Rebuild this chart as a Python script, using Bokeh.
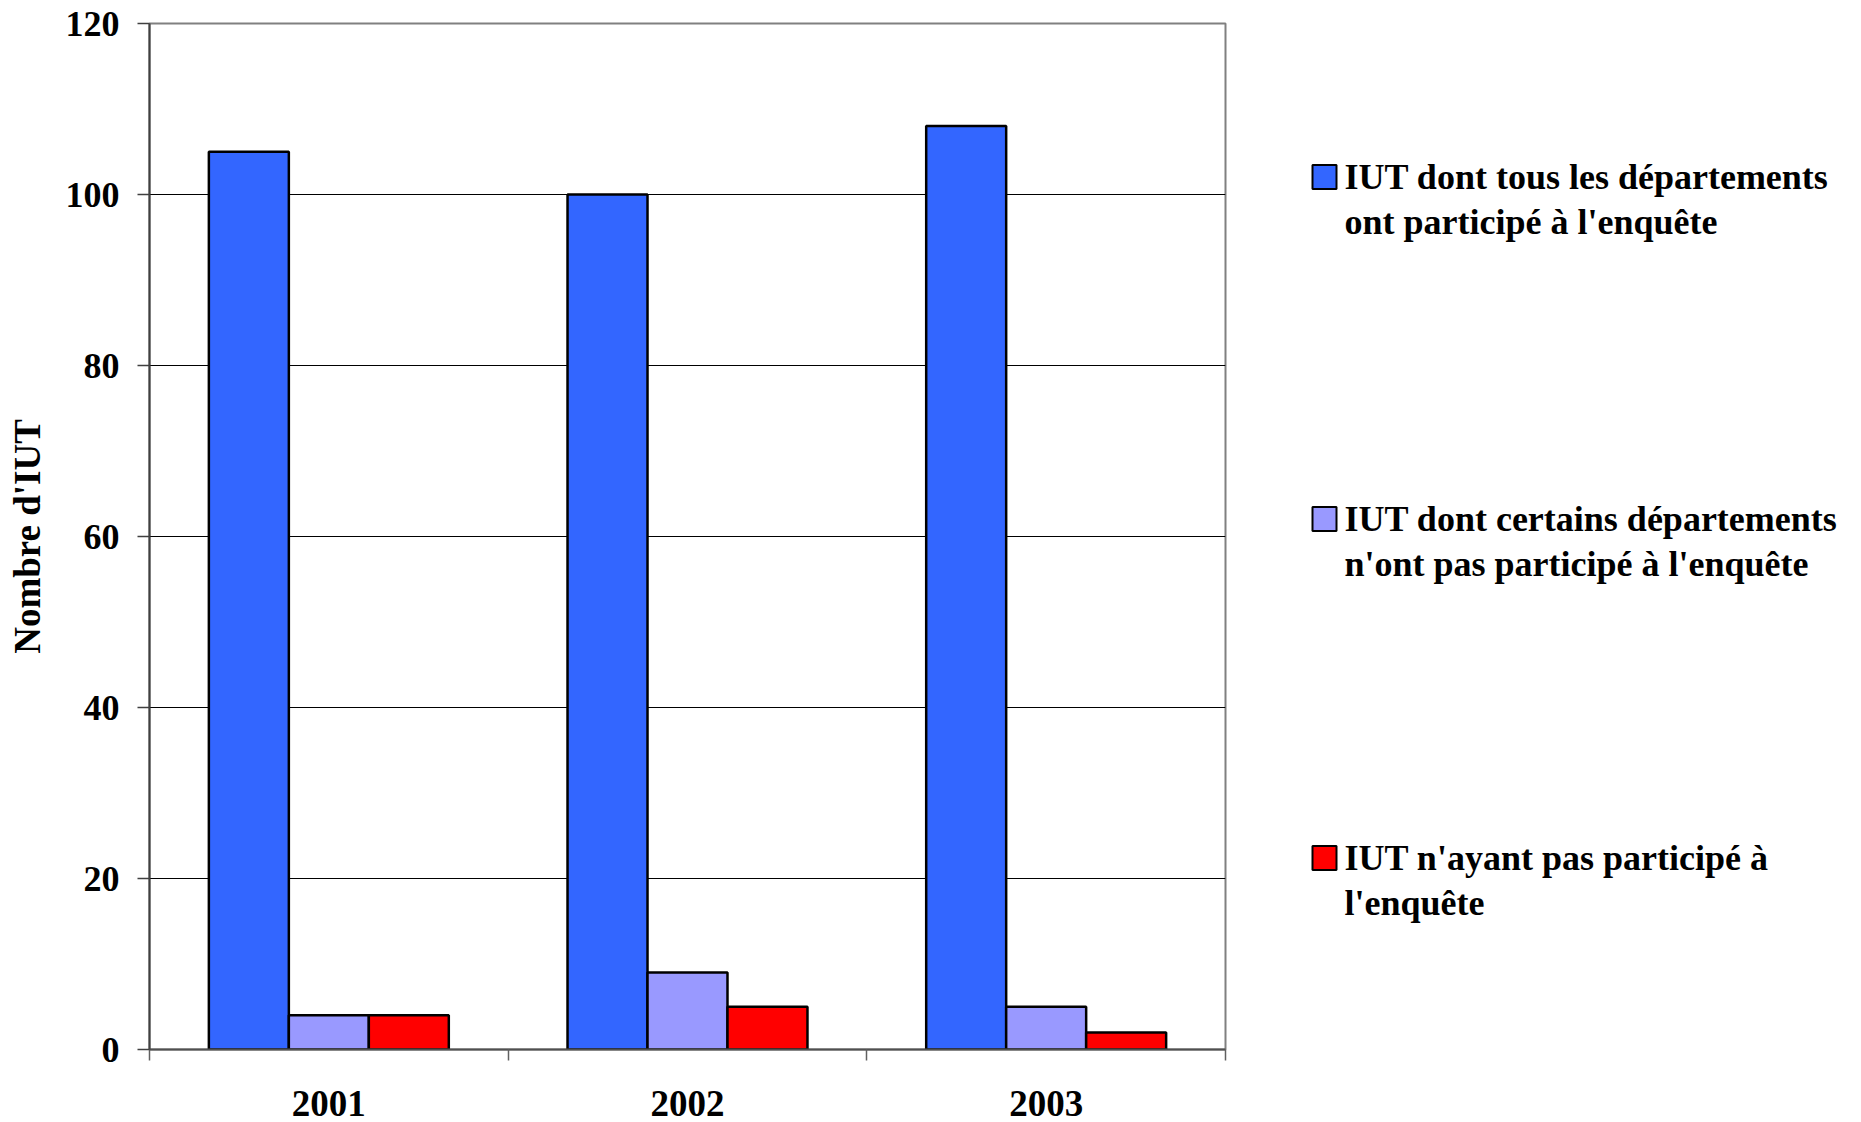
from bokeh.plotting import figure
from bokeh.models import ColumnDataSource, Range1d, FixedTicker
from bokeh.layouts import row
from bokeh.core.properties import value
from bokeh.embed import file_html
from bokeh.resources import INLINE

# ---- data ----
years = ["2001", "2002", "2003"]
tous = [105, 100, 108]
certains = [4, 9, 5]
aucun = [4, 5, 2]
series_labels = [
    "IUT dont tous les départements\nont participé à l'enquête",
    "IUT dont certains départements\nn'ont pas participé à l'enquête",
    "IUT n'ayant pas participé à\nl'enquête",
]
series_colors = ["#3366FF", "#9999FF", "#FF0000"]
y_ticks = [0, 20, 40, 60, 80, 100, 120]
y_label = "Nombre d'IUT"

FONT = "Liberation Serif"
FS = "37px"

W1, H = 1250, 1122
W2 = 1845 - W1
TOP, BOTTOM = 23, H - 1049

p = figure(width=W1, height=H, output_backend="svg", toolbar_location=None,
           x_range=Range1d(0, len(years)), y_range=Range1d(0, 120),
           min_border_left=149, min_border_right=25, min_border_top=TOP,
           min_border_bottom=BOTTOM)
p.background_fill_color = "white"
p.border_fill_color = "white"
p.outline_line_color = "#808080"
p.outline_line_width = 2

bw = 0.223
offsets = [-bw, 0.0, bw]
series = [tous, certains, aucun]
for vals, off, col in zip(series, offsets, series_colors):
    src = ColumnDataSource(dict(x=[i + 0.5 + off for i in range(len(years))], top=vals))
    p.vbar(x="x", top="top", width=bw, bottom=0, source=src,
           fill_color=col, line_color="black", line_width=2.5)

# y axis
p.yaxis.ticker = FixedTicker(ticks=y_ticks)
p.yaxis.major_tick_out = 12
p.yaxis.major_tick_in = 0
p.yaxis.minor_tick_out = 0
p.yaxis.minor_tick_in = 0
p.yaxis.major_label_standoff = 18
p.yaxis.axis_line_color = "#404040"
p.yaxis.axis_line_width = 2
p.yaxis.major_tick_line_color = "#404040"
p.yaxis.major_tick_line_width = 1.5
p.yaxis.major_label_text_font = FONT
p.yaxis.major_label_text_font_style = "bold"
p.yaxis.major_label_text_font_size = "36px"
p.yaxis.major_label_text_color = "black"
p.yaxis.axis_label = y_label
p.yaxis.axis_label_text_font = FONT
p.yaxis.axis_label_text_font_style = "bold"
p.yaxis.axis_label_text_font_size = FS
p.yaxis.axis_label_text_color = "black"
p.yaxis.axis_label_standoff = 15

# x axis
centers = [i + 0.5 for i in range(len(years))]
p.xaxis.ticker = FixedTicker(ticks=centers, minor_ticks=list(range(len(years) + 1)))
p.xaxis.major_label_overrides = {c: y for c, y in zip(centers, years)}
p.xaxis.major_tick_out = 0
p.xaxis.major_tick_in = 0
p.xaxis.minor_tick_out = 11
p.xaxis.minor_tick_in = 0
p.xaxis.minor_tick_line_color = "#606060"
p.xaxis.minor_tick_line_width = 1.5
p.xaxis.axis_line_color = "#505050"
p.xaxis.axis_line_width = 2
p.xaxis.major_label_standoff = BOTTOM - 43
p.xaxis.major_label_text_font = FONT
p.xaxis.major_label_text_font_style = "bold"
p.xaxis.major_label_text_font_size = FS
p.xaxis.major_label_text_color = "black"

p.xgrid.visible = False
p.ygrid.ticker = FixedTicker(ticks=[t for t in y_ticks if 0 < t < 120])
p.ygrid.grid_line_color = "black"
p.ygrid.grid_line_width = 1.2

# ---- legend panel (frame aligned with main frame; y in canvas pixels) ----
lg = figure(width=W2, height=H, output_backend="svg", toolbar_location=None,
            x_range=Range1d(0, W2), y_range=Range1d(H - BOTTOM, TOP),
            min_border_left=0, min_border_right=0,
            min_border_top=TOP, min_border_bottom=BOTTOM)
lg.axis.visible = False
lg.grid.visible = False
lg.outline_line_color = None
lg.background_fill_color = "white"
lg.border_fill_color = "white"

entry_base = [189, 531, 870]
line_gap = 45
sq = ColumnDataSource(dict(x=[74] * 3, y=[b - 12.5 for b in entry_base], c=series_colors))
lg.rect(x="x", y="y", width=24, height=24, fill_color="c", line_color="black",
        line_width=2, source=sq)

tx, ty, tt = [], [], []
for lab, eb in zip(series_labels, entry_base):
    for k, line in enumerate(lab.split("\n")):
        tx.append(94)
        ty.append(eb - 13 + k * line_gap)
        tt.append(line)
lg.text(x="x", y="y", text="t", source=ColumnDataSource(dict(x=tx, y=ty, t=tt)),
        text_font=value(FONT), text_font_style="bold", text_font_size="36px",
        text_color="black", text_baseline="alphabetic", text_align="left")

layout = row(p, lg, spacing=0)
open("out.html", "w").write(file_html(layout, INLINE))
